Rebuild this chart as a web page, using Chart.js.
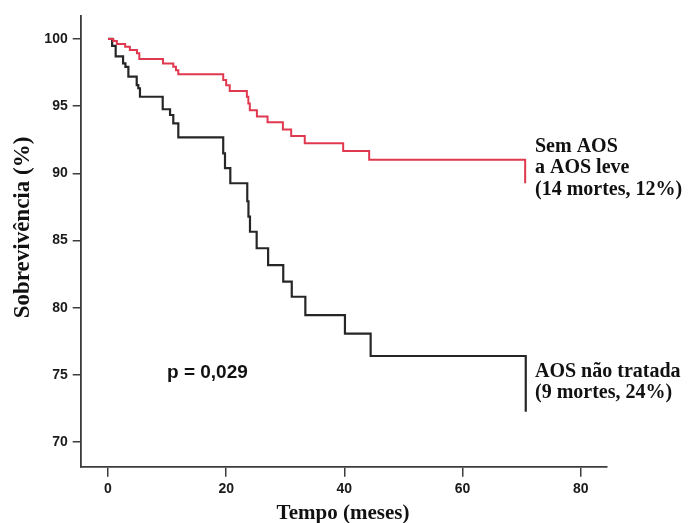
<!DOCTYPE html>
<html>
<head>
<meta charset="utf-8">
<script src="https://cdn.jsdelivr.net/npm/chart.js@4/dist/chart.umd.min.js"></script>
<style>
  html, body { margin: 0; padding: 0; background: #fff; }
  #wrap { width: 693px; height: 523px; }
</style>
</head>
<body>
<div id="wrap"><canvas id="kmChart" width="693" height="523"></canvas></div>
<script>
// Kaplan-Meier: tempo (meses) dos eventos e sobrevivencia (%) depois de cada evento
const semAosTempo  = [0, 0.9, 1.5, 2.9, 3.7, 4.9, 5.3, 9.3, 11.05, 11.5, 11.9, 19.5, 20.0, 20.6, 23.5, 23.75, 24.0, 25.2, 27.0, 29.6, 31.0, 33.3, 39.8, 44.2, 70.6];
const semAosSobrev = [100, 99.85, 99.62, 99.42, 99.18, 98.94, 98.5, 98.18, 97.93, 97.68, 97.38, 96.95, 96.56, 96.12, 95.7, 95.2, 94.7, 94.23, 93.8, 93.27, 92.78, 92.23, 91.66, 91.0, 89.26];

const aosTempo  = [0, 0.7, 1.3, 2.55, 2.95, 3.45, 4.86, 5.13, 5.41, 9.26, 10.5, 11.05, 11.9, 19.5, 19.8, 20.7, 23.57, 23.77, 24.03, 25.16, 27.1, 29.66, 31.1, 33.4, 40.1, 44.45, 70.7];
const aosSobrev = [100, 99.48, 98.7, 98.18, 97.92, 97.19, 96.57, 96.33, 95.7, 94.77, 94.34, 93.72, 92.68, 91.49, 90.39, 89.26, 87.92, 86.77, 85.65, 84.42, 83.17, 81.93, 80.81, 79.45, 78.06, 76.4, 72.25];

const xTicks = [0, 20, 40, 60, 80];
const yTicks = [70, 75, 80, 85, 90, 95, 100];

const zip = (xs, ys) => xs.map((x, i) => ({ x: x, y: ys[i] }));

const axisColor = '#3c3c3c';

const annotations = {
  id: 'annotations',
  afterDraw(chart) {
    const ctx = chart.ctx;
    ctx.save();
    ctx.fillStyle = '#111';
    ctx.textBaseline = 'alphabetic';
    ctx.textAlign = 'left';
    ctx.font = 'bold 20px "Liberation Serif", "Times New Roman", serif';
    ctx.fillText('Sem AOS', 535, 151.7);
    ctx.fillText('a AOS leve', 535, 173.3);
    ctx.fillText('(14 mortes, 12%)', 535, 195);
    ctx.fillText('AOS não tratada', 535, 376.7);
    ctx.fillText('(9 mortes, 24%)', 535, 398.3);

    ctx.font = 'bold 19px "Liberation Sans", Arial, sans-serif';
    ctx.fillText('p = 0,029', 167, 378);

    ctx.textAlign = 'center';
    ctx.font = 'bold 21px "Liberation Serif", "Times New Roman", serif';
    ctx.fillText('Tempo (meses)', 343, 519);

    ctx.translate(28.5, 227.5);
    ctx.rotate(-Math.PI / 2);
    ctx.font = 'bold 23px "Liberation Serif", "Times New Roman", serif';
    ctx.fillText('Sobrevivência (%)', 0, 0);
    ctx.restore();
  }
};

new Chart(document.getElementById('kmChart').getContext('2d'), {
  type: 'line',
  data: {
    datasets: [
      {
        label: 'Sem AOS a AOS leve',
        data: zip(semAosTempo, semAosSobrev),
        borderColor: '#e0394f',
        borderWidth: 2,
        stepped: 'before',
        pointRadius: 0,
        fill: false
      },
      {
        label: 'AOS não tratada',
        data: zip(aosTempo, aosSobrev),
        borderColor: '#262626',
        borderWidth: 2.2,
        stepped: 'before',
        pointRadius: 0,
        fill: false
      }
    ]
  },
  options: {
    responsive: false,
    animation: false,
    layout: { padding: { left: 0, right: 86.3, top: 16, bottom: 0 } },
    plugins: {
      legend: { display: false },
      tooltip: { enabled: false }
    },
    scales: {
      x: {
        type: 'linear',
        min: -4.62,
        max: 84.4,
        afterBuildTicks: (scale) => { scale.ticks = xTicks.map(v => ({ value: v })); },
        afterFit: (scale) => { scale.height = 56.3; },
        grid: { drawOnChartArea: false, drawTicks: true, tickLength: 10, color: axisColor, lineWidth: 1.5 },
        border: { display: true, color: axisColor, width: 1.8 },
        ticks: {
          padding: 4,
          color: '#1a1a1a',
          font: { family: '"Liberation Sans", Arial, sans-serif', size: 14, weight: 'bold' }
        }
      },
      y: {
        type: 'linear',
        min: 68.16,
        max: 101.71,
        afterBuildTicks: (scale) => { scale.ticks = yTicks.map(v => ({ value: v })); },
        afterFit: (scale) => { scale.width = 80.7; },
        grid: { drawOnChartArea: false, drawTicks: true, tickLength: 8, color: axisColor, lineWidth: 1.5 },
        border: { display: true, color: axisColor, width: 1.8 },
        ticks: {
          padding: 5,
          color: '#1a1a1a',
          font: { family: '"Liberation Sans", Arial, sans-serif', size: 14, weight: 'bold' }
        }
      }
    }
  },
  plugins: [annotations]
});
</script>
</body>
</html>
